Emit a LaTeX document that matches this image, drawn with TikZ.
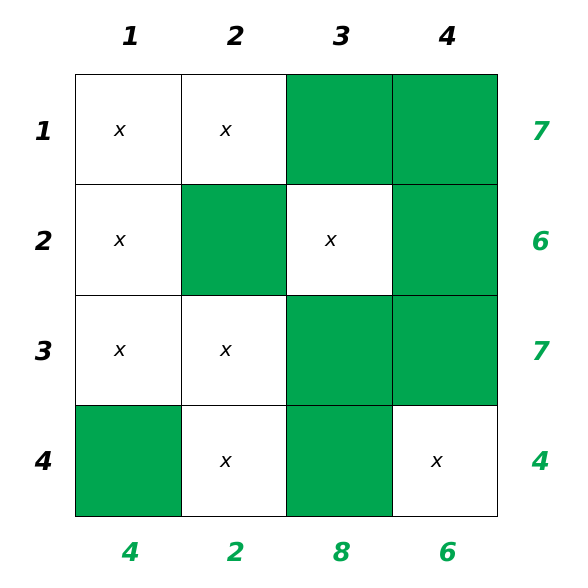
\documentclass[tikz,border=0pt]{standalone}
\usepackage{fontspec}
\setmainfont{DejaVu Sans}
\definecolor{cellgreen}{RGB}{0,166,80}
\tikzset{
  greencell/.style={fill=cellgreen},
  gridline/.style={draw=black, line width=1.4pt},
  mark x/.style={font=\fontsize{20}{20}\selectfont\itshape, inner sep=0pt},
  lab/.style={font=\fontsize{26}{26}\selectfont\bfseries\itshape, inner sep=0pt},
  glab/.style={lab, text=cellgreen},
}
\begin{document}
\begin{tikzpicture}[x=1pt,y=-1pt]
\useasboundingbox (0,0) rectangle (588,588);
% green cells
\fill[greencell] (286.5,74.5) rectangle (392.5,184.5);
\fill[greencell] (392.5,74.5) rectangle (497.5,184.5);
\fill[greencell] (181.5,184.5) rectangle (286.5,295.5);
\fill[greencell] (392.5,184.5) rectangle (497.5,295.5);
\fill[greencell] (286.5,295.5) rectangle (392.5,405.5);
\fill[greencell] (392.5,295.5) rectangle (497.5,405.5);
\fill[greencell] (75.5,405.5) rectangle (181.5,516.5);
\fill[greencell] (286.5,405.5) rectangle (392.5,516.5);
% grid lines
\foreach \gx in {75.5,181.5,286.5,392.5,497.5}
  \draw[gridline] (\gx,74.5) -- (\gx,516.5);
\foreach \gy in {74.5,184.5,295.5,405.5,516.5}
  \draw[gridline] (75.5,\gy) -- (497.5,\gy);
% x marks
\node[mark x] (x11) at (120,131) {x};
\node[mark x] (x12) at (226,131) {x};
\node[mark x] (x21) at (120,241) {x};
\node[mark x] (x23) at (331,241) {x};
\node[mark x] (x31) at (120,351) {x};
\node[mark x] (x32) at (226,351) {x};
\node[mark x] (x42) at (226,462) {x};
\node[mark x] (x44) at (437,462) {x};
% column labels
\node[lab] (t1) at (131,36) {1};
\node[lab] (t2) at (236,36) {2};
\node[lab] (t3) at (342,36) {3};
\node[lab] (t4) at (448,36) {4};
% row labels
\node[lab] (l1) at (44,131) {1};
\node[lab] (l2) at (44,241) {2};
\node[lab] (l3) at (44,351) {3};
\node[lab] (l4) at (44,461) {4};
% right sums
\node[glab] (r1) at (541,131) {7};
\node[glab] (r2) at (541,241) {6};
\node[glab] (r3) at (541,351) {7};
\node[glab] (r4) at (541,461) {4};
% bottom sums
\node[glab] (b1) at (131,552) {4};
\node[glab] (b2) at (236,552) {2};
\node[glab] (b3) at (342,552) {8};
\node[glab] (b4) at (448,552) {6};
\end{tikzpicture}
\end{document}
